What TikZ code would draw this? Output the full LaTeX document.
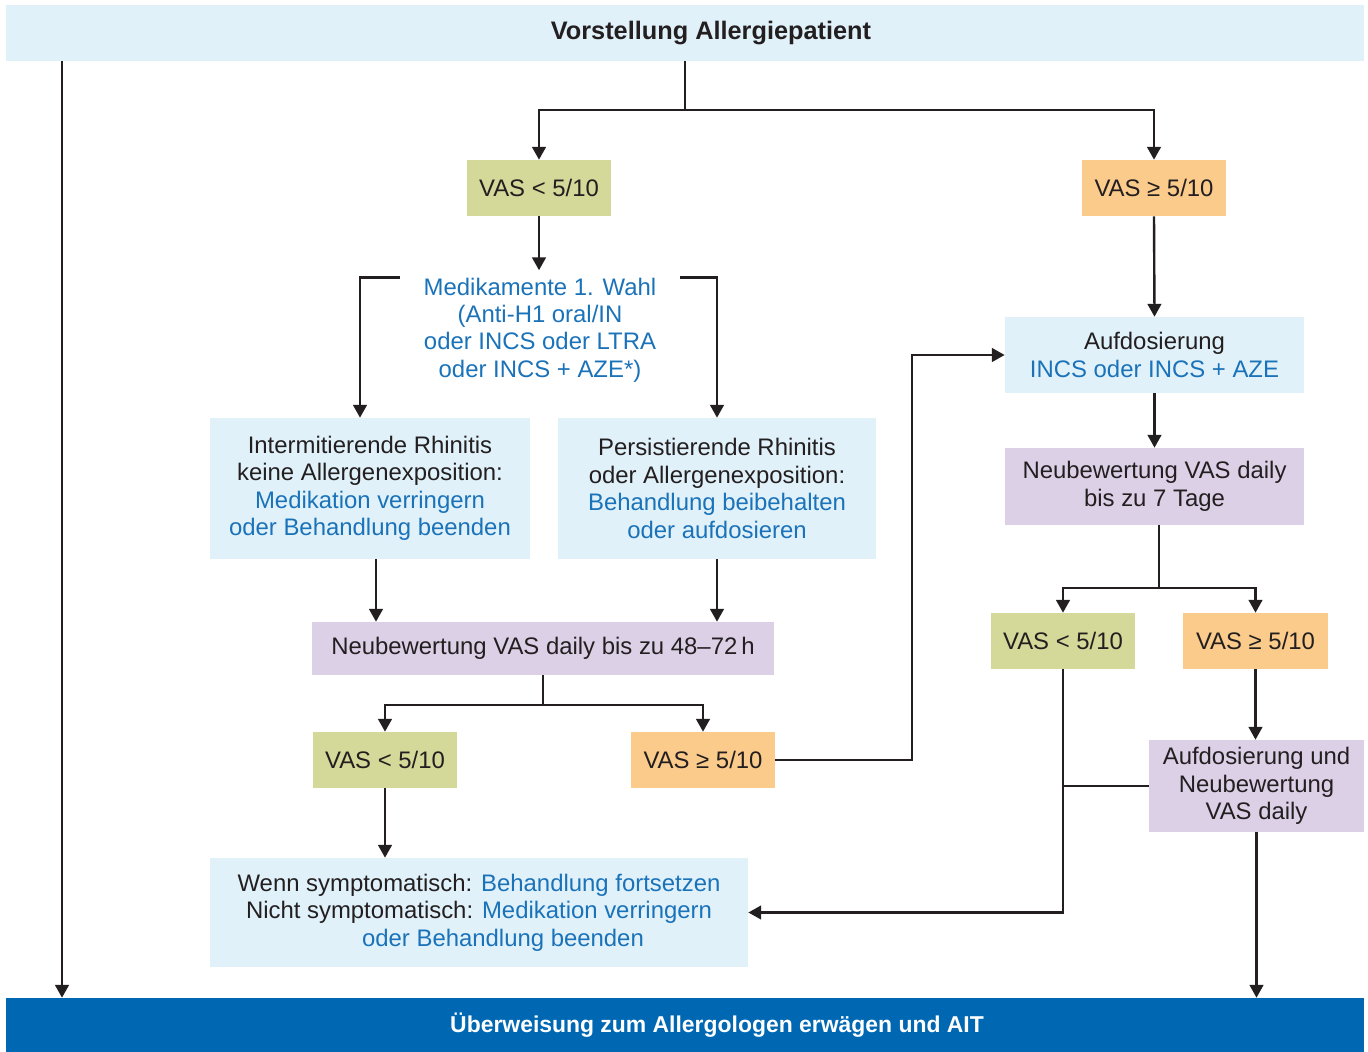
\documentclass[tikz,border=0pt]{standalone}
\usepackage{fontspec}
\setmainfont{Liberation Sans}
\usetikzlibrary{arrows.meta}

\definecolor{infoblue}{HTML}{E0F1F9}
\definecolor{lowgreen}{HTML}{D4D999}
\definecolor{highorange}{HTML}{FBCB8B}
\definecolor{reviewlilac}{HTML}{DCD0E7}
\definecolor{txtblue}{HTML}{1A72B9}
\definecolor{footblue}{HTML}{0068B3}
\definecolor{lineblack}{HTML}{231F20}

\tikzset{
  panel/.style={inner sep=0pt, align=center, text=lineblack},
  infobox/.style={panel, fill=infoblue},
  vaslow/.style={panel, fill=lowgreen, minimum width=3.6cm, minimum height=1.4cm},
  vashigh/.style={panel, fill=highorange, minimum width=3.6cm, minimum height=1.4cm},
  review/.style={panel, fill=reviewlilac},
  line/.style={draw=lineblack, line width=1.7pt},
  link/.style={line, -{Triangle[length=0.32cm,width=0.34cm]}}
}
\newcommand{\blue}[1]{\textcolor{txtblue}{#1}}

\begin{document}
\begin{tikzpicture}[x=0.025cm,y=-0.025cm,font=\fontsize{17}{19.5}\selectfont]
  \useasboundingbox (0,0) rectangle (1368,1052);

  % top and bottom bars
  \node[infobox, minimum width=33.95cm, minimum height=1.4cm, font=\fontsize{18}{20}\selectfont\bfseries]
    (top) at (685,33) {\hspace*{1.3cm}\raisebox{-0.07cm}{Vorstellung Allergiepatient}};
  \node[panel, fill=footblue, text=white, minimum width=33.95cm, minimum height=1.35cm, font=\fontsize{16.3}{18}\selectfont\bfseries]
    (bottom) at (685,1025) {\hspace*{1.6cm}Überweisung zum Allergologen erwägen und AIT};

  % left branch
  \node[vaslow] (vasL1) at (539,188) {VAS < 5/10};
  \node[panel, text=txtblue, minimum width=6.975cm] (med) at (540,330)
    {Medikamente 1. Wahl\\(Anti-H1 oral/IN\\oder INCS oder LTRA\\oder INCS + AZE*)};
  \node[infobox, minimum width=8cm, minimum height=3.525cm] (inter) at (370,488.5)
    {Intermitierende Rhinitis\\keine Allergenexposition:\\\blue{Medikation verringern}\\\blue{oder Behandlung beenden}};
  \node[infobox, minimum width=7.95cm, minimum height=3.525cm] (pers) at (717,488.5)
    {Persistierende Rhinitis\\oder Allergenexposition:\\\blue{Behandlung beibehalten}\\\blue{oder aufdosieren}};
  \node[review, minimum width=11.55cm, minimum height=1.325cm] (neu1) at (543,648.5)
    {Neubewertung VAS daily bis zu 48--72\,h};
  \node[vaslow] (vasL2) at (385,760) {VAS < 5/10};
  \node[vashigh] (vasR2) at (703,760) {VAS ≥ 5/10};
  \node[infobox, minimum width=13.45cm, minimum height=2.725cm] (wenn) at (479,912.5)
    {Wenn symptomatisch: \blue{Behandlung fortsetzen}\\Nicht symptomatisch: \blue{Medikation verringern}\\\hspace*{1.2cm}\blue{oder Behandlung beenden}};

  % right branch
  \node[vashigh] (vasR1) at (1154,188) {VAS ≥ 5/10};
  \node[infobox, minimum width=7.475cm, minimum height=1.9cm] (aufd) at (1154.5,355)
    {Aufdosierung\\\blue{INCS oder INCS + AZE}};
  \node[review, minimum width=7.475cm, minimum height=1.925cm] (neu2) at (1154.5,486.5)
    {Neubewertung VAS daily\\bis zu 7 Tage};
  \node[vaslow] (vasL3) at (1063,641) {VAS < 5/10};
  \node[vashigh] (vasR3) at (1255.5,641) {VAS ≥ 5/10};
  \node[review, minimum width=5.375cm, minimum height=2.3cm] (aufd2) at (1256.5,786)
    {Aufdosierung und\\Neubewertung\\VAS daily};

  % junctions
  \coordinate (lft) at (62,61);
  \coordinate (fork1) at (685,110);
  \coordinate (fork2) at (543,705);
  \coordinate (fork3) at (1159,588);
  \coordinate (bend) at (912,355);

  % connectors
  \draw[link] (lft) -- (lft |- bottom.north);
  \draw[line] (top.south -| fork1) -- (fork1);
  \draw[link] (fork1) -| (vasL1.north);
  \draw[link] (fork1) -| (vasR1.north);
  \draw[link] (vasL1.south) -- ([yshift=0.18cm]med.north -| vasL1.south);
  \draw[link] (med.north west) -| ([xshift=-0.25cm]inter.north);
  \draw[link] (med.north east) -| (pers.north);
  \draw[link] ([xshift=0.15cm]inter.south) -- ([xshift=0.15cm]inter.south |- neu1.north);
  \draw[link] (pers.south) -- (pers.south |- neu1.north);
  \draw[line] (neu1.south) -- (fork2);
  \draw[link] (fork2) -| (vasL2.north);
  \draw[link] (fork2) -| (vasR2.north);
  \draw[link] (vasL2.south) -- (vasL2.south |- wenn.north);
  \draw[link] (vasR2.east) -| (bend) -- (aufd.west);
  \draw[link] (vasR1.south) -- (aufd.north);
  \draw[link] (aufd.south) -- (neu2.north);
  \draw[line] (neu2.south -| fork3) -- (fork3);
  \draw[link] (fork3) -| (vasL3.north);
  \draw[link] (fork3) -| (vasR3.north);
  \draw[link] (vasR3.south) -- (vasR3.south |- aufd2.north);
  \draw[link] (vasL3.south) |- (wenn.east);
  \draw[line] (aufd2.west) -- (aufd2.west -| vasL3.south);
  \draw[link] (aufd2.south) -- (aufd2.south |- bottom.north);
\end{tikzpicture}
\end{document}
